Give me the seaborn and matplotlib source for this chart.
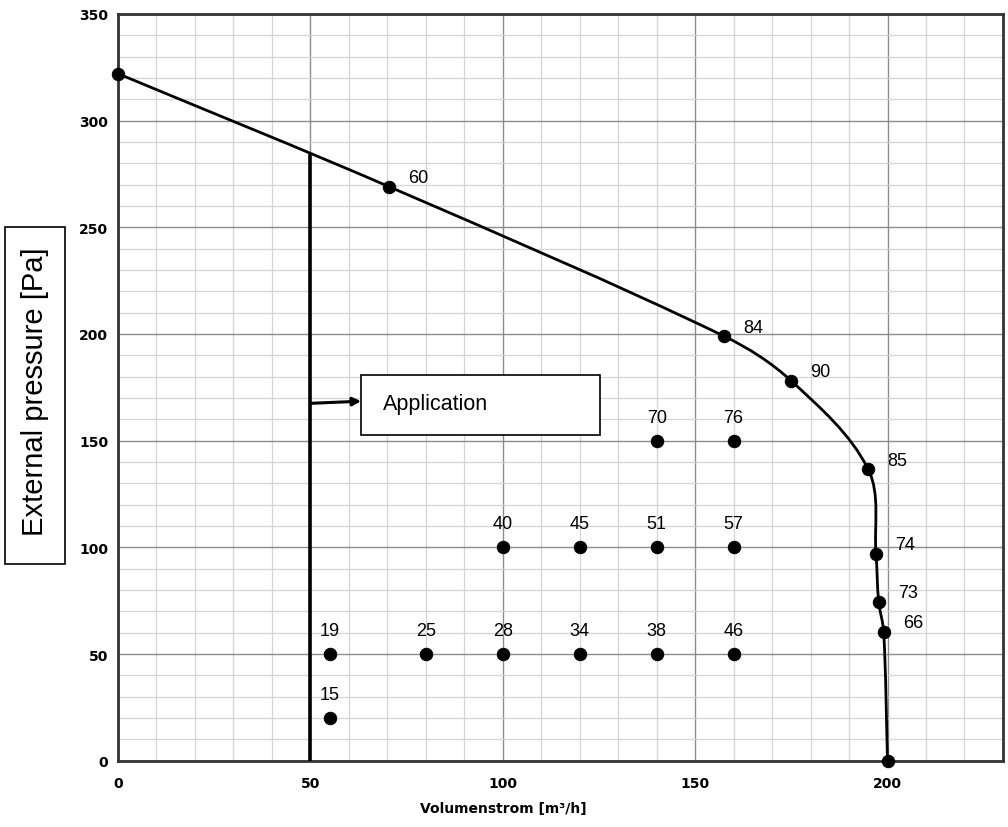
"""Kennlinie: External pressure vs Volumenstrom."""

import matplotlib

matplotlib.use("Agg")
import matplotlib.pyplot as plt
import numpy as np
import pandas as pd
import seaborn as sns
from matplotlib.path import Path
from matplotlib.patches import PathPatch

# Kennlinie (Arbeitspunkte auf der Kurve)
curve_flow = [0, 70.5, 157.5, 175, 195, 197, 197.7, 199, 200]
curve_pressure = [322, 269, 199, 178, 136.5, 97, 74.5, 60.5, 0]
curve_labels = ["", "60", "84", "90", "85", "74", "73", "66", ""]

# Einzelpunkte im Kennfeld
grid_flow = [55, 80, 100, 120, 140, 160, 55, 100, 120, 140, 160, 140, 160]
grid_pressure = [50, 50, 50, 50, 50, 50, 20, 100, 100, 100, 100, 150, 150]
grid_labels = ["19", "25", "28", "34", "38", "46", "15", "40", "45", "51", "57", "70", "76"]

app_flow = 50
app_pressure_top = 284

sns.set_theme(style="white")
plt.rcParams["font.family"] = ["Liberation Sans", "DejaVu Sans"]
plt.rcParams["text.color"] = "black"

fig = plt.figure(figsize=(10.08, 8.28), dpi=100)
ax = fig.add_axes([0.117, 0.080, 0.878, 0.902])

# Gitter
ax.set_xlim(0, 230)
ax.set_ylim(0, 350)
ax.set_xticks(np.arange(0, 201, 50))
ax.set_yticks(np.arange(0, 351, 50))
ax.set_xticks(np.arange(0, 231, 10), minor=True)
ax.set_yticks(np.arange(0, 351, 10), minor=True)
ax.grid(which="minor", color="#d4d4d4", lw=0.9)
ax.grid(which="major", color="#8c8c8c", lw=1.0)
ax.set_axisbelow(True)
for s in ax.spines.values():
    s.set_color("#333333")
    s.set_linewidth(2)
ax.tick_params(which="major", length=4, width=1, color="#555555", direction="out",
               labelsize=10, labelcolor="black")
ax.tick_params(axis="x", pad=7)
ax.tick_params(axis="y", pad=3)
ax.tick_params(which="minor", length=0)
for lab in ax.get_xticklabels() + ax.get_yticklabels():
    lab.set_fontweight("bold")
    lab.set_family("DejaVu Sans")

# geglättete Kennlinie: Bezier mit Tangenten, skaliert auf Bildschirmverhältnis
ky = 2.134 / 3.845
pts = np.column_stack([curve_flow, np.array(curve_pressure) * ky])
n = len(pts)
tang = []
for i in range(n):
    d = pts[min(i + 1, n - 1)] - pts[max(i - 1, 0)]
    tang.append(d / np.linalg.norm(d))
verts = [tuple(pts[0])]
codes = [Path.MOVETO]
for i in range(n - 1):
    p1, p2 = pts[i], pts[i + 1]
    L = np.linalg.norm(p2 - p1) / 3
    c1 = p1 + tang[i] * L
    c2 = p2 - tang[i + 1] * L
    verts += [tuple(c1), tuple(c2), tuple(p2)]
    codes += [Path.CURVE4] * 3
verts = [(vx, vy / ky) for vx, vy in verts]
ax.add_patch(PathPatch(Path(verts, codes), fill=False, lw=2.0, color="black",
                       capstyle="round", zorder=3))

df_curve = pd.DataFrame({"flow": curve_flow, "pressure": curve_pressure})
sns.scatterplot(data=df_curve, x="flow", y="pressure", ax=ax, s=80, color="black",
                edgecolor="black", zorder=4, clip_on=False)
for x, y, t in zip(curve_flow, curve_pressure, curve_labels):
    if t:
        ax.annotate(t, (x, y), xytext=(21, 6.5), textcoords="offset points",
                    fontsize=13, ha="center", va="center")

df_grid = pd.DataFrame({"flow": grid_flow, "pressure": grid_pressure})
sns.scatterplot(data=df_grid, x="flow", y="pressure", ax=ax, s=80, color="black",
                edgecolor="black", zorder=4)
for x, y, t in zip(grid_flow, grid_pressure, grid_labels):
    ax.annotate(t, (x, y), xytext=(0, 17), textcoords="offset points",
                fontsize=13, ha="center", va="center")

# Application-Linie und Box
ax.plot([app_flow, app_flow], [0, app_pressure_top], color="black", lw=2.6, zorder=3)
ax.annotate("", xy=(63.2, 168.5), xytext=(app_flow, 167.5),
            arrowprops=dict(arrowstyle="-|>", lw=2.2, color="black", mutation_scale=12,
                            shrinkA=0, shrinkB=0), zorder=3)
ax.add_patch(plt.Rectangle((63.2, 152.8), 62.2, 28.1, facecolor="white",
                           edgecolor="black", lw=1.2, zorder=5))
ax.text(68.8, 167.5, "Application", fontsize=15.5, ha="left", va="center", zorder=6)

ax.set_xlabel("Volumenstrom [m³/h]", fontsize=10, fontweight="bold",
              family="DejaVu Sans", color="black")
ax.xaxis.set_label_coords(0.435, -0.054)
ax.set_ylabel("")

# Y-Achsentitel in Box
fig.patches.append(plt.Rectangle((5 / 1008, 1 - 565 / 828), 60 / 1008, 337 / 828,
                                 transform=fig.transFigure, facecolor="white",
                                 edgecolor="black", lw=1.2))
fig.text(35 / 1008, 1 - 392 / 828, "External pressure [Pa]", rotation=90,
         fontsize=21, ha="center", va="center")

fig.savefig("out.png", dpi=100)
